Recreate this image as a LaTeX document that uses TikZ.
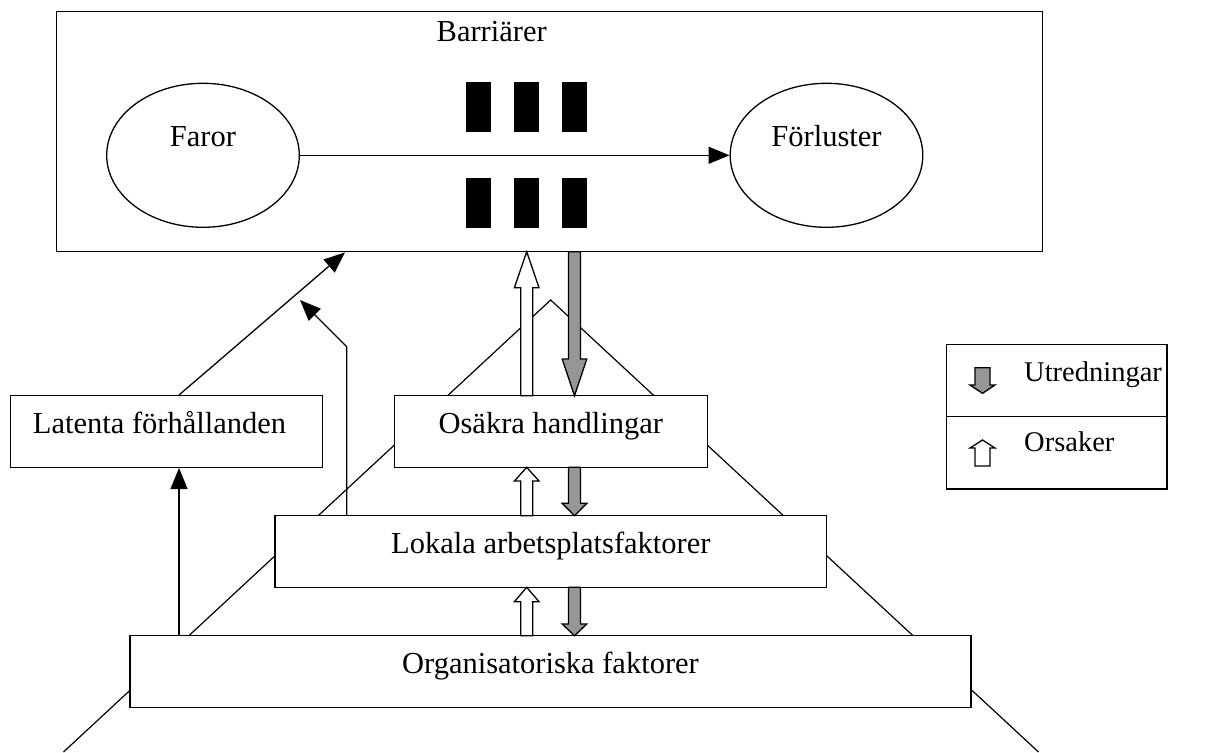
\documentclass[tikz,border=0pt]{standalone}
\usepackage{fontspec}
\setmainfont{Liberation Serif}
\usetikzlibrary{arrows.meta,shapes.geometric}
\definecolor{arrgray}{RGB}{150,150,150}
\newcommand\blkarrow[5]{% style, x, tail y, head base y, tip y
  \draw[#1] (#2-6,#3) -- (#2-6,#4) -- (#2-12.3,#4) -- (#2,#5) -- (#2+12.3,#4) -- (#2+6,#4) -- (#2+6,#3) -- cycle;}
\newcommand\legarrow[5]{% style, x, tail y, head base y, tip y
  \draw[#1] (#2-7.5,#3) -- (#2-7.5,#4) -- (#2-12.5,#4) -- (#2,#5) -- (#2+12.5,#4) -- (#2+7.5,#4) -- (#2+7.5,#3) -- cycle;}
\tikzset{
  box/.style={draw, fill=white, line width=1.4pt, inner sep=0pt, text height=12pt, text depth=7.6pt},
  oval/.style={draw, ellipse, line width=1.3pt, inner sep=0pt, text height=10pt},
  arr/.style={line width=1.3pt, -{Triangle[length=21pt,width=17pt]}},
  pyr/.style={line width=1.2pt},
  whitearr/.style={draw, fill=white, line width=1.3pt, line join=miter},
  grayarr/.style={draw, fill=arrgray, line width=1.3pt, line join=miter},
  txt/.style={inner sep=0pt},
  legtxt/.style={inner sep=0pt, font=\fontsize{28.5}{34}\selectfont}
}
\begin{document}
\begin{tikzpicture}[x=1pt, y=-1pt, font=\fontsize{30.5}{36}\selectfont]
\useasboundingbox (0,0) rectangle (1212,752);
% pyramid lines
\coordinate (apex) at (550.7,300);
\coordinate (pl) at (63.5,752);
\coordinate (pr) at (1038.5,752);
\draw[pyr] (pl) -- (apex) -- (pr);
% top box
\node[box, minimum width=986pt, minimum height=240pt] (top) at (549.7,131.7) {};
\node[txt, anchor=base] (barr) at (491.7,41.7) {Barriärer};
\node[oval, minimum width=192.6pt, minimum height=144pt, text depth=28pt] (faror) at (203,155.3) {Faror};
\node[oval, minimum width=192.6pt, minimum height=144pt, text depth=28.6pt] (forl) at (826.5,155.3) {Förluster};
\draw[arr] (faror.east) -- (forl.west);
% barriers
\foreach \bx in {465.7,513.7,561.7}{
  \fill (\bx,82.3) rectangle (\bx+25.6,131.7);
  \fill (\bx,178.3) rectangle (\bx+25.6,228.3);
}
% level boxes
\node[box, minimum width=312.4pt, minimum height=71.6pt] (latent) at (166.5,431.5) {\hspace*{-14pt}Latenta förhållanden};
\node[box, minimum width=313pt, minimum height=71.6pt] (osakra) at (550.8,431.5) {Osäkra handlingar};
\node[box, minimum width=551.7pt, minimum height=71.6pt] (lokala) at (550.85,551.5) {Lokala arbetsplatsfaktorer};
\node[box, minimum width=841pt, minimum height=71.6pt] (org) at (550.5,671.5) {Organisatoriska faktorer};
% block arrows
\blkarrow{whitearr}{526.7}{395.7}{287.7}{251.7}
\blkarrow{grayarr}{574.5}{251.7}{359}{395.7}
\blkarrow{whitearr}{526.7}{515.7}{481}{467.3}
\blkarrow{grayarr}{574.5}{467.3}{503.3}{515.7}
\blkarrow{whitearr}{526.7}{635.7}{601.7}{587.3}
\blkarrow{grayarr}{574.5}{587.3}{624}{635.7}
% line arrows
\draw[arr] ([xshift=12.5pt]latent.north) -- ([xshift=-204.7pt]top.south);
\coordinate (bend) at (346.7,346.7);
\coordinate (tipb) at (300,300);
\draw[arr] ([xshift=-204.15pt]lokala.north) -- (bend) -- (tipb);
\draw[arr] ([xshift=-371.5pt]org.north) -- ([xshift=12.5pt]latent.south);
% legend
\node[box, minimum width=220.3pt, minimum height=72.4pt] (legtop) at (1056.85,380.5) {};
\node[box, minimum width=220.3pt, minimum height=72.3pt] (legbot) at (1056.85,452.85) {};
\node[legtxt, anchor=base west] (utr) at (1024,381.7) {Utredningar};
\node[legtxt, anchor=base west] (ors) at (1024,451.7) {Orsaker};
\legarrow{grayarr}{982.5}{367.7}{385}{393.3}
\legarrow{whitearr}{982.5}{466}{448}{440}
\end{tikzpicture}
\end{document}
